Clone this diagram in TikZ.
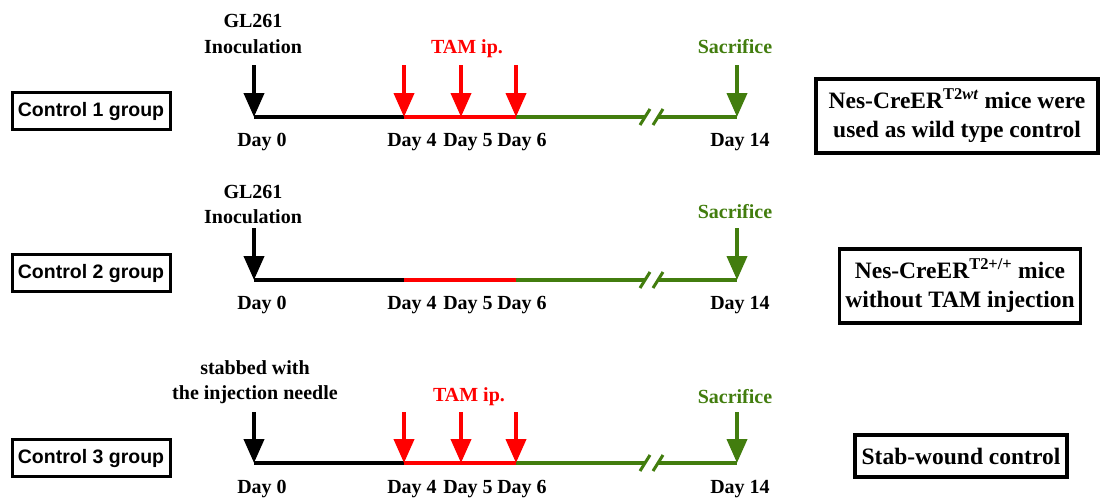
\documentclass[tikz,border=0pt]{standalone}
\usepackage{fontspec}
\setmainfont{Liberation Serif}
\newfontfamily\arialfont{Liberation Sans}
\usetikzlibrary{arrows.meta}
\definecolor{tamred}{RGB}{255,0,0}
\definecolor{sacgreen}{RGB}{66,125,14}
\begin{document}
\begin{tikzpicture}[x=1pt,y=-1pt,
  lbl/.style={font=\bfseries\fontsize{20}{24}\selectfont, inner sep=0pt, anchor=base},
  grp/.style={draw, line width=3pt, font=\arialfont\bfseries\fontsize{19.5}{23}\selectfont,
              minimum width=158pt, minimum height=37pt, inner sep=0pt},
  note/.style={draw, line width=3.5pt, font=\bfseries\fontsize{23.5}{29}\selectfont,
               align=center, inner sep=0pt},
  axis/.style={line width=4pt},
  evt/.style={line width=4pt, -{Triangle[width=20pt,length=24pt]}},
  brk/.style={line width=3pt, sacgreen},
]
\useasboundingbox (0,0) rectangle (1105,499);

% ---------------- Control 1 ----------------
\node[grp] (g1) at (91,111) {Control 1 group};
\coordinate (p10) at (254,117);
\coordinate (p14) at (404,117);
\coordinate (p15) at (461,117);
\coordinate (p16) at (516,117);
\coordinate (k11) at (645,117);
\coordinate (k12) at (658,117);
\coordinate (p114) at (737,117);
\coordinate (t10) at (254,65);
\coordinate (t14) at (404,65);
\coordinate (t15) at (461,65);
\coordinate (t16) at (516,65);
\coordinate (t114) at (737,65);

\draw[axis] (p10) -- (p14);
\draw[axis,tamred] (p14) -- (p16);
\draw[axis,sacgreen] (p16) -- (k11);
\draw[axis,sacgreen] (k12) -- (p114);
\draw[brk] ([shift={(-5,8)}]k11) -- ([shift={(5,-8)}]k11);
\draw[brk] ([shift={(-5,8)}]k12) -- ([shift={(5,-8)}]k12);

\draw[evt] (t10) -- (p10);
\draw[evt,tamred] (t14) -- (p14);
\draw[evt,tamred] (t15) -- (p15);
\draw[evt,tamred] (t16) -- (p16);
\draw[evt,sacgreen] (t114) -- (p114);

\node[lbl] (c1a) at (253,27.5) {GL261};
\node[lbl] (c1b) at (253,53.5) {Inoculation};
\node[lbl,tamred] (c1t) at (467,53.5) {TAM ip.};
\node[lbl,sacgreen] (c1s) at (735,53.5) {Sacrifice};
\node[lbl] (d10) at (262,146.5) {Day 0};
\node[lbl] (d14) at (412,146.5) {Day 4};
\node[lbl] (d15) at (468,146.5) {Day 5};
\node[lbl] (d16) at (522,146.5) {Day 6};
\node[lbl] (d114) at (740,146.5) {Day 14};

\node[note, minimum width=282pt, minimum height=74pt] (n1) at (957,116)
  {Nes-CreER\textsuperscript{T2\textit{wt}} mice were\\used as wild type control};

% ---------------- Control 2 ----------------
\node[grp] (g2) at (91,273) {Control 2 group};
\coordinate (p20) at (254,280);
\coordinate (p24) at (404,280);
\coordinate (p26) at (516,280);
\coordinate (k21) at (645,280);
\coordinate (k22) at (658,280);
\coordinate (p214) at (737,280);
\coordinate (t20) at (254,228);
\coordinate (t214) at (737,228);

\draw[axis] (p20) -- (p24);
\draw[axis,tamred] (p24) -- (p26);
\draw[axis,sacgreen] (p26) -- (k21);
\draw[axis,sacgreen] (k22) -- (p214);
\draw[brk] ([shift={(-5,8)}]k21) -- ([shift={(5,-8)}]k21);
\draw[brk] ([shift={(-5,8)}]k22) -- ([shift={(5,-8)}]k22);

\draw[evt] (t20) -- (p20);
\draw[evt,sacgreen] (t214) -- (p214);

\node[lbl] (c2a) at (253,198.5) {GL261};
\node[lbl] (c2b) at (253,223.5) {Inoculation};
\node[lbl,sacgreen] (c2s) at (735,218.5) {Sacrifice};
\node[lbl] (d20) at (262,309.5) {Day 0};
\node[lbl] (d24) at (412,309.5) {Day 4};
\node[lbl] (d25) at (468,309.5) {Day 5};
\node[lbl] (d26) at (522,309.5) {Day 6};
\node[lbl] (d214) at (740,309.5) {Day 14};

\node[note, minimum width=241pt, minimum height=74pt] (n2) at (960,286)
  {Nes-CreER\textsuperscript{T2+/+} mice\\without TAM injection};

% ---------------- Control 3 ----------------
\node[grp] (g3) at (91,458) {Control 3 group};
\coordinate (p30) at (254,463);
\coordinate (p34) at (404,463);
\coordinate (p35) at (461,463);
\coordinate (p36) at (516,463);
\coordinate (k31) at (645,463);
\coordinate (k32) at (658,463);
\coordinate (p314) at (737,463);
\coordinate (t30) at (254,412);
\coordinate (t34) at (404,412);
\coordinate (t35) at (461,412);
\coordinate (t36) at (516,412);
\coordinate (t314) at (737,412);

\draw[axis] (p30) -- (p34);
\draw[axis,tamred] (p34) -- (p36);
\draw[axis,sacgreen] (p36) -- (k31);
\draw[axis,sacgreen] (k32) -- (p314);
\draw[brk] ([shift={(-5,8)}]k31) -- ([shift={(5,-8)}]k31);
\draw[brk] ([shift={(-5,8)}]k32) -- ([shift={(5,-8)}]k32);

\draw[evt] (t30) -- (p30);
\draw[evt,tamred] (t34) -- (p34);
\draw[evt,tamred] (t35) -- (p35);
\draw[evt,tamred] (t36) -- (p36);
\draw[evt,sacgreen] (t314) -- (p314);

\node[lbl] (c3a) at (255,374.5) {stabbed with};
\node[lbl] (c3b) at (255,399.5) {the injection needle};
\node[lbl,tamred] (c3t) at (469,401.5) {TAM ip.};
\node[lbl,sacgreen] (c3s) at (735,403.5) {Sacrifice};
\node[lbl] (d30) at (262,493.5) {Day 0};
\node[lbl] (d34) at (412,493.5) {Day 4};
\node[lbl] (d35) at (468,493.5) {Day 5};
\node[lbl] (d36) at (522,493.5) {Day 6};
\node[lbl] (d314) at (740,493.5) {Day 14};

\node[note, minimum width=212pt, minimum height=42pt] (n3) at (961,456)
  {Stab-wound control};
\end{tikzpicture}
\end{document}
